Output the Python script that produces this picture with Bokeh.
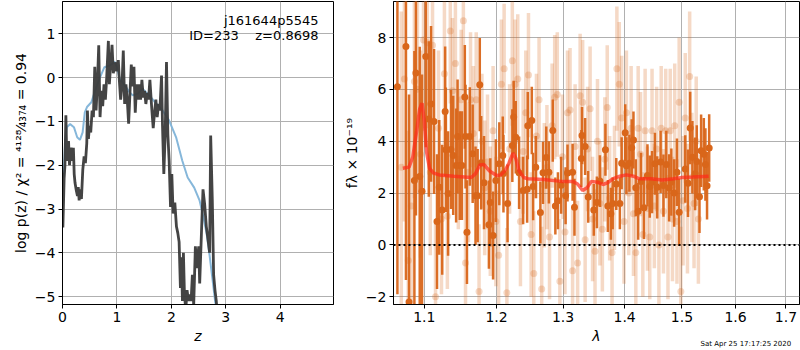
from bokeh.plotting import figure
from bokeh.layouts import row
from bokeh.models import Label, Span, FixedTicker, Range1d, ColumnDataSource, CustomJSTickFormatter, PrintfTickFormatter, Title
from bokeh.embed import file_html
from bokeh.resources import INLINE

# ---------------- left panel: log p(z) ----------------
z_pz = [0.007, 0.03, 0.045, 0.062, 0.080, 0.095, 0.111, 0.129, 0.145, 0.160, 0.184, 0.200, 0.215, 0.230,
        0.250, 0.275, 0.290, 0.306, 0.324, 0.348, 0.373, 0.397, 0.421, 0.446, 0.458, 0.477, 0.495, 0.519,
        0.544, 0.568, 0.593, 0.617, 0.641, 0.666, 0.690, 0.715, 0.739, 0.763, 0.788, 0.812, 0.843, 0.861,
        0.885, 0.910, 0.934, 0.965, 0.995, 1.026, 1.044, 1.068, 1.093, 1.117, 1.142, 1.166, 1.190, 1.215,
        1.240, 1.264, 1.288, 1.313, 1.337, 1.362, 1.386, 1.410, 1.435, 1.459, 1.484, 1.508, 1.532, 1.557,
        1.581, 1.606, 1.637, 1.667, 1.691, 1.716, 1.740, 1.765, 1.789, 1.820, 1.838, 1.862, 1.887, 1.911,
        1.936, 1.960, 1.985, 2.009, 2.033, 2.064, 2.094, 2.119, 2.143, 2.167, 2.186, 2.204, 2.222, 2.241,
        2.265, 2.289, 2.314, 2.338, 2.363, 2.387, 2.411, 2.442, 2.472, 2.503, 2.521, 2.552, 2.582, 2.613,
        2.643, 2.674, 2.704, 2.723, 2.753, 2.777, 2.802, 2.826, 2.845]
logp = [-3.42, -2.30, -2.00, -0.86, -1.90, -1.50, -1.45, -2.00, -1.70, -1.60, -1.90, -1.60, -2.20, -2.40,
        -2.55, -2.70, -2.50, -2.80, -2.55, -2.77, -2.10, -1.80, -1.95, -1.50, -0.75, -1.40, -1.10, -1.25,
        -0.75, -0.90, 0.25, -0.75, -0.15, 0.74, -0.90, -0.30, -0.65, -0.15, -0.50, 0.00, 0.84, -0.15,
        0.30, 0.75, 0.10, 0.35, 0.15, 0.40, -0.05, -0.50, -0.20, 0.62, -0.60, -0.15, -0.50, -1.05,
        -0.35, 0.30, -0.20, 0.25, -0.80, -0.15, -0.50, -0.15, -0.50, -0.05, -0.45, -0.30, -0.60, -0.35,
        -0.50, -0.05, -0.65, -1.15, -0.80, -0.50, -0.90, -0.60, -0.75, 0.05, -1.10, -2.20, -1.30, 0.36,
        -1.30, -1.90, -2.95, -2.20, -3.10, -2.85, -3.40, -3.55, -3.75, -4.80, -4.10, -5.10, -4.00, -4.95,
        -5.30, -4.85, -5.10, -4.95, -5.10, -4.50, -5.20, -3.85, -4.35, -3.85, -4.70, -3.60, -2.55, -2.90,
        -3.40, -3.70, -4.00, -1.32, -2.80, -4.50, -4.85, -5.10, -5.40]

z_prior = [0.02, 0.05, 0.08, 0.14, 0.21, 0.27, 0.32, 0.37, 0.41, 0.45, 0.53, 0.62, 0.68, 0.77, 0.87,
           0.96, 1.00, 1.05, 1.14, 1.23, 1.29, 1.38, 1.47, 1.59, 1.72, 1.84, 1.96, 2.09, 2.20, 2.30,
           2.42, 2.52, 2.59, 2.65, 2.70, 2.76, 2.81]
logp_prior = [-2.28, -1.43, -1.13, -1.06, -1.13, -1.36, -1.42, -1.25, -0.79, -0.67, -0.56, -0.22, -0.02,
              0.24, 0.28, 0.36, 0.24, -0.02, -0.17, -0.33, -0.40, -0.37, -0.25, -0.40, -0.59, -0.75,
              -0.98, -1.37, -1.89, -2.28, -2.51, -2.81, -3.19, -3.57, -4.03, -4.64, -5.16]

z_ticks = [0, 1, 2, 3, 4]
logp_ticks = [-5, -4, -3, -2, -1, 0, 1]

# ---------------- right panel: spectrum ----------------
lam_a = [1.065, 1.076, 1.080, 1.087, 1.089, 1.094, 1.097, 1.102, 1.106, 1.109, 1.113, 1.117, 1.120, 1.124,
         1.128, 1.129, 1.132, 1.136, 1.139, 1.143, 1.145, 1.148, 1.151, 1.155, 1.156, 1.158, 1.162, 1.166,
         1.170, 1.173, 1.176, 1.178, 1.182, 1.189, 1.191, 1.195, 1.199, 1.204, 1.209, 1.210, 1.216, 1.223,
         1.225, 1.228, 1.233, 1.239, 1.245, 1.246, 1.252, 1.254, 1.258, 1.265, 1.269, 1.274, 1.278, 1.284,
         1.288, 1.292, 1.297, 1.304, 1.307, 1.315, 1.318, 1.329, 1.330, 1.335, 1.340, 1.349, 1.354, 1.359,
         1.368, 1.372, 1.377, 1.380, 1.386, 1.392, 1.395, 1.401, 1.403, 1.408, 1.412, 1.415, 1.419, 1.423,
         1.428, 1.433, 1.439, 1.443, 1.447, 1.452, 1.456, 1.462, 1.467, 1.472, 1.477, 1.481, 1.486, 1.491,
         1.495, 1.506, 1.511, 1.515, 1.519, 1.524, 1.527, 1.532, 1.535, 1.540, 1.543, 1.546, 1.550]
flux_a = [6.10, 7.65, -2.20, 2.48, 6.63, 2.64, 2.07, 7.27, 4.86, 5.44, 4.76, 0.90, 2.22, 1.35,
          5.15, 3.67, 1.98, 3.68, 3.45, 3.06, 4.18, 3.06, 3.06, 5.71, 4.18, 0.49, 4.18, 3.52,
          1.90, 1.90, 6.18, 3.17, 2.40, 0.78, 1.64, 0.36, 2.48, 3.13, 3.45, 2.75, 1.60, 3.83,
          4.93, 4.15, 2.78, 2.10, 2.15, 4.60, 4.80, 2.25, 3.00, 1.25, 2.78, 3.37, 2.80, 4.41,
          1.50, 1.70, 2.30, 1.90, 2.77, 2.80, 1.45, 3.33, 4.22, 3.80, 1.85, 1.35, 1.64, 2.46,
          3.67, 1.50, 1.20, 1.60, 2.35, 1.60, 3.15, 4.33, 3.05, 3.15, 3.75, 4.05, 2.20, 1.30,
          2.45, 1.43, 2.68, 2.25, 2.42, 3.13, 2.22, 3.20, 2.29, 3.10, 2.20, 2.42, 2.00, 2.80,
          1.26, 2.93, 2.38, 4.51, 3.38, 2.74, 3.22, 1.86, 3.63, 3.50, 3.10, 2.28, 3.74]
err_a = [8.0, 9.0, 8.0, 5.0, 5.5, 5.0, 4.5, 3.5, 3.0, 3.0, 2.8, 2.6, 2.6, 2.5,
         2.5, 2.4, 2.4, 2.3, 2.3, 2.2, 2.2, 2.1, 2.1, 2.0, 2.0, 2.0, 1.9, 1.9,
         1.9, 1.8, 1.8, 1.8, 1.8, 1.7, 1.7, 1.7, 1.6, 1.6, 1.5, 1.5, 1.5, 1.4,
         1.4, 1.4, 1.4, 1.3, 1.3, 1.3, 1.3, 1.3, 1.2, 1.2, 1.2, 1.2, 1.2, 1.2,
         1.1, 1.1, 1.1, 1.1, 1.1, 1.1, 1.1, 1.1, 1.1, 1.1, 1.0, 1.0, 1.0, 1.0,
         1.0, 1.0, 1.0, 1.0, 1.0, 1.0, 1.0, 1.1, 1.1, 1.1, 1.1, 1.1, 1.1, 1.1,
         1.1, 1.2, 1.2, 1.2, 1.2, 1.2, 1.2, 1.2, 1.2, 1.3, 1.3, 1.3, 1.3, 1.3,
         1.3, 1.3, 1.3, 1.4, 1.4, 1.4, 1.4, 1.4, 1.4, 1.4, 1.4, 1.3, 1.3]

lam_b = [1.070, 1.074, 1.079, 1.083, 1.087, 1.091, 1.095, 1.099, 1.104, 1.108, 1.111, 1.115, 1.119, 1.123,
         1.127, 1.131, 1.135, 1.138, 1.142, 1.146, 1.150, 1.153, 1.156, 1.160, 1.163, 1.167, 1.171, 1.175,
         1.179, 1.183, 1.187, 1.191, 1.195, 1.199, 1.203, 1.207, 1.211, 1.215, 1.219, 1.223, 1.227, 1.231,
         1.235, 1.239, 1.243, 1.247, 1.251, 1.255, 1.259, 1.263, 1.267, 1.271, 1.275, 1.279, 1.283, 1.287,
         1.291, 1.295, 1.299, 1.303, 1.307, 1.311, 1.315, 1.319, 1.323, 1.327, 1.331, 1.335, 1.339, 1.343,
         1.347, 1.351, 1.355, 1.359, 1.363, 1.367, 1.371, 1.375, 1.379, 1.383, 1.387, 1.391, 1.395, 1.399,
         1.403, 1.407, 1.411, 1.415, 1.419, 1.423, 1.427, 1.431, 1.435, 1.439, 1.443, 1.447, 1.451, 1.455,
         1.459, 1.463, 1.467, 1.471, 1.475, 1.479, 1.483, 1.487, 1.491, 1.495, 1.498, 1.502, 1.506, 1.510,
         1.514, 1.518, 1.522, 1.526, 1.530]
flux_b = [3.0, 6.4, -0.6, 1.5, 6.3, 6.0, 3.5, 7.9, 7.8, 2.8, 7.7, -2.0, 4.5, 1.0,
          6.6, 1.1, 8.25, 5.95, 7.0, 3.3, 5.6, 8.65, -0.7, 2.8, 5.6, 4.3, 5.6, -1.8,
          4.0, 2.2, 3.2, 1.3, 4.4, 0.9, -0.4, 6.2, 6.8, -1.85, 3.7, 7.1, 6.2, 6.4,
          0.9, 3.6, 5.1, 6.55, 0.4, -1.1, 4.2, 5.6, -1.7, 2.3, 3.0, 0.3, 4.6, 5.7,
          5.8, -1.4, 3.4, 0.5, 5.1, 5.2, -1.0, 3.8, -0.7, 5.75, 5.5, 0.2, 3.7, 5.25,
          1.0, -0.25, 4.0, 1.6, 0.6, 3.3, 5.3, 1.8, -0.3, 2.2, 6.8, 6.2, 4.9, 0.9,
          5.1, 2.0, 4.5, 1.2, -0.3, 4.5, 3.5, 0.4, 4.4, 1.4, 0.3, 4.4, 1.5, 3.7,
          0.0, 4.5, 1.3, 4.4, 0.3, 4.4, 1.0, 4.6, 0.9, 5.5, -1.8, 1.7, 4.9, 1.4,
          6.5, 2.6, 1.6, 4.0, 1.0]
err_b = [6.0, 5.5, 5.0, 4.5, 4.5, 4.0, 4.0, 3.5, 3.3, 3.2, 3.0, 3.0, 3.0, 2.9,
         2.9, 2.8, 2.8, 2.8, 2.8, 2.7, 2.7, 2.7, 2.7, 2.7, 2.6, 2.6, 2.6, 2.6,
         2.6, 2.6, 2.6, 2.5, 2.5, 2.5, 2.5, 2.5, 2.5, 2.5, 2.5, 2.5, 2.5, 2.5,
         2.5, 2.4, 2.4, 2.4, 2.4, 2.4, 2.4, 2.4, 2.4, 2.4, 2.4, 2.4, 2.4, 2.4,
         2.4, 2.4, 2.4, 2.4, 2.4, 2.4, 2.4, 2.4, 2.4, 2.4, 2.4, 2.4, 2.4, 2.4,
         2.4, 2.4, 2.4, 2.4, 2.4, 2.4, 2.4, 2.4, 2.4, 2.4, 2.4, 2.4, 2.4, 2.4,
         2.4, 2.4, 2.4, 2.4, 2.4, 2.4, 2.4, 2.4, 2.4, 2.4, 2.4, 2.4, 2.4, 2.4,
         2.4, 2.4, 2.4, 2.4, 2.4, 2.4, 2.4, 2.4, 2.4, 2.5, 2.5, 2.5, 2.5, 2.5,
         2.5, 2.5, 2.5, 2.5, 2.5]

lam_model = [1.072, 1.080, 1.085, 1.090, 1.094, 1.097, 1.100, 1.103, 1.107, 1.112, 1.120, 1.140, 1.164,
             1.170, 1.176, 1.182, 1.190, 1.200, 1.206, 1.212, 1.218, 1.224, 1.228, 1.233, 1.240, 1.246,
             1.270, 1.297, 1.315, 1.323, 1.331, 1.338, 1.345, 1.355, 1.364, 1.372, 1.380, 1.392, 1.403,
             1.415, 1.425, 1.445, 1.465, 1.485, 1.500, 1.520, 1.549]
flux_model = [2.96, 3.00, 3.40, 4.40, 5.25, 5.47, 4.80, 3.60, 2.95, 2.78, 2.70, 2.65, 2.60,
              2.75, 3.08, 3.10, 2.85, 2.68, 2.70, 2.85, 3.15, 3.54, 3.35, 2.85, 2.60, 2.55,
              2.52, 2.45, 2.45, 2.35, 2.10, 2.20, 2.45, 2.42, 2.33, 2.40, 2.55, 2.65, 2.70,
              2.65, 2.55, 2.55, 2.50, 2.55, 2.60, 2.62, 2.65]

lam_ticks = [1.1, 1.2, 1.3, 1.4, 1.5, 1.6, 1.7]
flux_ticks = [-2, 0, 2, 4, 6, 8]

FONT = "DejaVu Sans"
ORANGE = "#d9661a"
NB = "\u00a0"
minus_fmt = CustomJSTickFormatter(code="return String(tick).replace('-', '\u2212')")


def style(p):
    p.outline_line_color = "black"
    p.outline_line_alpha = 1.0
    p.outline_line_width = 1
    for ax in (p.xaxis[0], p.yaxis[0]):
        ax.major_label_text_font = FONT
        ax.major_label_text_font_size = "14px"
        ax.major_label_text_color = "black"
        ax.axis_label_text_font = FONT
        ax.axis_label_text_font_size = "14px"
        ax.axis_label_text_color = "black"
        ax.axis_label_text_font_style = "normal"
        ax.axis_line_color = "black"
        ax.major_tick_line_color = "black"
        ax.major_tick_out = 4
        ax.major_tick_in = 0
        ax.minor_tick_line_color = None
        ax.major_label_standoff = 3
        ax.axis_label_standoff = 3
    for g in (p.xgrid[0], p.ygrid[0]):
        g.grid_line_color = "#b0b0b0"
        g.grid_line_width = 1


# left figure
p1 = figure(width=340, height=350, output_backend="svg", toolbar_location=None,
            x_range=Range1d(0, 4.98), y_range=Range1d(-5.18, 1.74),
            min_border_left=62, min_border_right=7, min_border_top=1, min_border_bottom=46)
p1.line(z_prior, logp_prior, line_color="#7fb3d8", line_width=2, line_alpha=0.95)
p1.line(z_pz, logp, line_color="#3a3a3a", line_width=2.8, line_alpha=0.95)
p1.xaxis.ticker = FixedTicker(ticks=z_ticks)
p1.yaxis.ticker = FixedTicker(ticks=logp_ticks)
p1.yaxis.formatter = minus_fmt
p1.xaxis.axis_label = "z"
p1.yaxis.axis_label = "log p(z) / \u03c7\u00b2 = \u2074\u00b9\u00b2\u2078\u2044\u2084\u2083\u2087\u2084 = 0.94"
style(p1)
p1.xaxis.axis_label_text_font_style = "italic"
p1.add_layout(Label(x=256, y=284, x_units="screen", y_units="screen", text="j161644p5545",
                    text_align="right", text_baseline="middle", text_font=FONT,
                    text_font_size="13px", text_color="black"))
p1.add_layout(Label(x=256, y=269, x_units="screen", y_units="screen",
                    text="ID=233" + NB * 4 + "z=0.8698",
                    text_align="right", text_baseline="middle", text_font=FONT,
                    text_font_size="13px", text_color="black"))

# right figure
p2 = figure(width=460, height=350, output_backend="svg", toolbar_location=None,
            x_axis_type="log", x_range=Range1d(1.06, 1.728), y_range=Range1d(-2.3, 9.39),
            min_border_left=51, min_border_right=1, min_border_top=1, min_border_bottom=46)

src_b = ColumnDataSource(dict(x=lam_b, y=flux_b,
                              lo=[f - e for f, e in zip(flux_b, err_b)],
                              hi=[f + e for f, e in zip(flux_b, err_b)]))
src_a = ColumnDataSource(dict(x=lam_a, y=flux_a,
                              lo=[f - e for f, e in zip(flux_a, err_a)],
                              hi=[f + e for f, e in zip(flux_a, err_a)]))
p2.segment(x0="x", y0="lo", x1="x", y1="hi", source=src_b, line_color=ORANGE, line_alpha=0.25, line_width=3.5)
p2.scatter(x="x", y="y", source=src_b, size=7, fill_color=ORANGE, fill_alpha=0.25, line_color=None)
p2.segment(x0="x", y0="lo", x1="x", y1="hi", source=src_a, line_color=ORANGE, line_alpha=0.95, line_width=2.5)
p2.scatter(x="x", y="y", source=src_a, size=7, fill_color=ORANGE, fill_alpha=1.0, line_color=None)
p2.line(lam_model, flux_model, line_color="#ff2a1a", line_width=3.5, line_alpha=0.7)
p2.add_layout(Span(location=0, dimension="width", line_color="black", line_width=2, line_dash="2 3"))
p2.xaxis.ticker = FixedTicker(ticks=lam_ticks)
p2.xaxis.formatter = PrintfTickFormatter(format="%.1f")
p2.yaxis.ticker = FixedTicker(ticks=flux_ticks)
p2.yaxis.formatter = minus_fmt
p2.xaxis.axis_label = "\u03bb"
p2.yaxis.axis_label = "f\u03bb \u00d7 10\u207b\u00b9\u2079"
style(p2)
p2.xaxis.axis_label_text_font_style = "italic"
p2.add_layout(Title(text="Sat Apr 25 17:17:25 2020", align="left", offset=307, standoff=-13,
                    vertical_align="top", text_baseline="middle",
                    text_font=FONT, text_font_size="7px", text_font_style="normal",
                    text_color="black"), "below")

layout = row(p1, p2)
open("out.html", "w").write(file_html(layout, INLINE))
